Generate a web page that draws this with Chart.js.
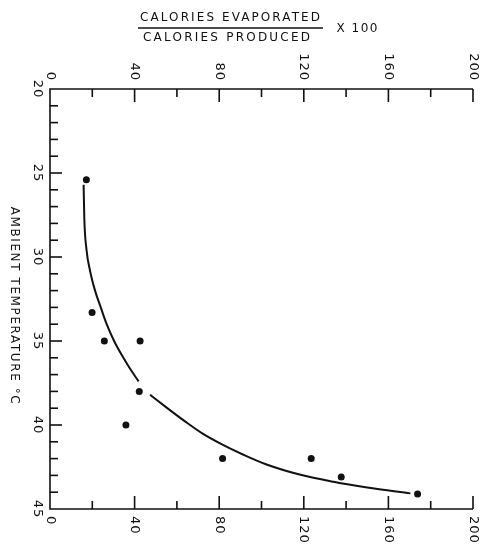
<!DOCTYPE html>
<html>
<head>
<meta charset="utf-8">
<script src="https://cdn.jsdelivr.net/npm/chart.js@4/dist/chart.umd.min.js"></script>
<style>
html,body{margin:0;padding:0;background:#fff;}
#c{display:block;}
</style>
</head>
<body>
<canvas id="c" width="483" height="545"></canvas>
<script>
// ---- data ----
const ratioObs = [17.2, 19.9, 25.7, 42.6, 42.2, 35.9, 81.6, 123.5, 137.7, 173.8];
const tempObs  = [25.4, 33.3, 35.0, 35.0, 38.0, 40.0, 42.0, 42.0, 43.1, 44.1];

const curve1Ratio = [15.9, 16.2, 17.3, 18.9, 21.3, 24.0, 26.8, 30.3, 34.7, 38.1, 41.9];
const curve1Temp  = [25.7, 27.6, 29.6, 30.8, 32.0, 33.0, 34.0, 35.0, 36.0, 36.7, 37.4];

const curve2Ratio = [47.3, 55.0, 64.0, 72.0, 82.0, 92.0, 102.4, 118.0, 134.0, 150.0, 170.4];
const curve2Temp  = [38.2, 38.95, 39.8, 40.5, 41.2, 41.8, 42.35, 42.95, 43.38, 43.72, 44.07];

const xTickLabels = [0, 40, 80, 120, 160, 200];
const yTickLabels = [20, 25, 30, 35, 40, 45];

const titleTop = "CALORIES EVAPORATED";
const titleBottom = "CALORIES PRODUCED";
const titleFactor = "X 100";
const yTitle = "AMBIENT TEMPERATURE \u00B0C";

const toPts = (xs, ys) => xs.map((x, i) => ({x: x, y: ys[i]}));

const INK = '#111';

function spacedText(ctx, text, cx, cy, width) {
  ctx.save();
  ctx.letterSpacing = '0px';
  const w0 = ctx.measureText(text).width;
  const sp = (width - w0) / (text.length - 1);
  ctx.letterSpacing = sp + 'px';
  ctx.textAlign = 'left';
  ctx.textBaseline = 'middle';
  ctx.fillText(text, cx - width / 2, cy);
  ctx.restore();
}

function rotText(ctx, text, x, y, align) {
  ctx.save();
  ctx.translate(x, y);
  ctx.rotate(Math.PI / 2);
  ctx.textAlign = align;
  ctx.textBaseline = 'middle';
  ctx.fillText(text, 0, 0);
  ctx.restore();
}

const axesPlugin = {
  id: 'axesPlugin',
  afterDraw(chart) {
    const ctx = chart.ctx;
    const xs = chart.scales.x, ys = chart.scales.y;
    const x0 = xs.getPixelForValue(0), x1 = xs.getPixelForValue(200);
    const yT = ys.getPixelForValue(20), yB = ys.getPixelForValue(45);
    ctx.save();
    ctx.strokeStyle = INK;
    ctx.fillStyle = INK;
    ctx.lineWidth = 1.6;
    ctx.lineCap = 'butt';
    ctx.beginPath();
    ctx.moveTo(x1, yT); ctx.lineTo(x0, yT); ctx.lineTo(x0, yB); ctx.lineTo(x1, yB);
    ctx.stroke();
    for (let v = 20; v <= 200; v += 20) {
      const px = xs.getPixelForValue(v);
      const len = (v % 40 === 0) ? 13 : 8;
      ctx.beginPath();
      ctx.moveTo(px, yT); ctx.lineTo(px, yT + len);
      ctx.moveTo(px, yB); ctx.lineTo(px, yB - len);
      ctx.stroke();
    }
    for (let v = 21; v < 45; v += 1) {
      const py = ys.getPixelForValue(v);
      const len = (v % 5 === 0) ? 12 : 8;
      ctx.beginPath();
      ctx.moveTo(x0, py); ctx.lineTo(x0 + len, py);
      ctx.stroke();
    }
    ctx.font = '13px "DejaVu Sans"';
    ctx.letterSpacing = '1px';
    xTickLabels.forEach(v => {
      const px = xs.getPixelForValue(v);
      rotText(ctx, String(v), px, yT - 8, 'right');
      rotText(ctx, String(v), px, yB + 7, 'left');
    });
    yTickLabels.forEach(v => {
      const py = ys.getPixelForValue(v);
      rotText(ctx, String(v), x0 - 13, py, 'center');
    });
    ctx.font = '12px "DejaVu Sans"';
    ctx.letterSpacing = '1.6px';
    rotText(ctx, yTitle, 14, 306, 'center');
    ctx.font = '12px "DejaVu Sans"';
    spacedText(ctx, titleTop, 230, 17.5, 180);
    spacedText(ctx, titleBottom, 226.5, 37.5, 167);
    ctx.lineWidth = 1.5;
    ctx.beginPath();
    ctx.moveTo(138, 28); ctx.lineTo(323, 28);
    ctx.stroke();
    spacedText(ctx, titleFactor, 357, 29, 41);
    ctx.restore();
  }
};

new Chart(document.getElementById('c'), {
  type: 'scatter',
  data: {
    datasets: [
      {
        label: 'observed',
        data: toPts(ratioObs, tempObs),
        showLine: false,
        pointRadius: 3.5,
        pointBackgroundColor: INK,
        pointBorderColor: INK,
        pointBorderWidth: 0
      },
      {
        label: 'curve1',
        data: toPts(curve1Ratio, curve1Temp),
        showLine: true,
        pointRadius: 0,
        borderColor: INK,
        borderWidth: 2,
        cubicInterpolationMode: 'monotone',
        fill: false
      },
      {
        label: 'curve2',
        data: toPts(curve2Ratio, curve2Temp),
        showLine: true,
        pointRadius: 0,
        borderColor: INK,
        borderWidth: 2,
        cubicInterpolationMode: 'monotone',
        fill: false
      }
    ]
  },
  options: {
    responsive: false,
    animation: false,
    events: [],
    layout: { padding: { left: 50, top: 89, right: 10, bottom: 36 } },
    plugins: { legend: { display: false }, tooltip: { enabled: false } },
    scales: {
      x: { type: 'linear', min: 0, max: 200, display: false },
      y: { type: 'linear', min: 20, max: 45, reverse: true, display: false }
    }
  },
  plugins: [axesPlugin]
});
</script>
</body>
</html>
